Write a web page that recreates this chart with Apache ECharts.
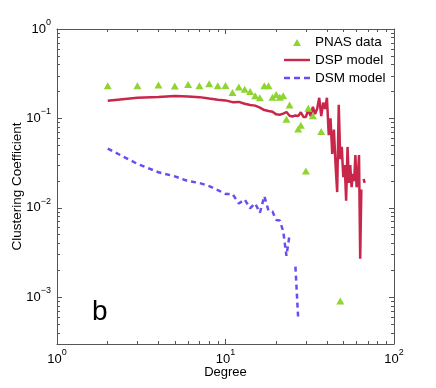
<!DOCTYPE html>
<html>
<head>
<meta charset="utf-8">
<script src="https://cdn.jsdelivr.net/npm/echarts@6/dist/echarts.min.js"></script>
<style>
  html, body { margin: 0; padding: 0; background: #fff; }
  #chart { width: 436px; height: 388px; }
</style>
</head>
<body>
<div id="chart"></div>
<script>
// PNAS data (triangles)
var pnasDegree = [2, 3, 4, 5, 6, 7, 8, 9, 10, 11, 12, 13, 14, 15, 16, 17, 18, 19, 20, 21, 22, 23, 24, 27, 28, 30, 31, 33, 37, 48];
var pnasClustering = [0.232, 0.232, 0.236, 0.230, 0.240, 0.232, 0.244, 0.232, 0.234, 0.195, 0.224, 0.212, 0.200, 0.179, 0.170,
    0.232, 0.232, 0.173, 0.185, 0.173, 0.179, 0.098, 0.141, 0.076, 0.084, 0.0259, 0.130, 0.107, 0.0716, 0.00091];

// DSP model (solid red)
var dspDegree = [2, 3, 4, 5, 6, 7, 8, 9, 10, 11, 12, 13, 14, 15, 16, 17, 18, 19, 20, 21, 22, 23, 24, 25, 26, 27, 28, 29, 30,
    31, 32, 33, 34, 35, 36, 37, 38, 39, 40, 41, 42, 43, 44, 45, 46, 47, 48, 49, 50, 51, 52, 53, 54, 55, 56, 57, 58, 59, 60,
    61, 62, 63, 64, 65, 66, 67];
var dspClustering = [0.158, 0.170, 0.174, 0.178, 0.176, 0.173, 0.167, 0.162, 0.159, 0.152, 0.153, 0.146, 0.141, 0.139, 0.132,
    0.124, 0.121, 0.119, 0.111, 0.110, 0.113, 0.118, 0.107, 0.105, 0.108, 0.106, 0.117, 0.104, 0.104,
    0.125, 0.106, 0.135, 0.112, 0.128, 0.170, 0.106, 0.150, 0.128, 0.170, 0.065, 0.100, 0.040, 0.075, 0.030, 0.015,
    0.142, 0.035, 0.048, 0.022, 0.030, 0.012, 0.048, 0.019, 0.030, 0.017, 0.024, 0.020, 0.039, 0.017,
    0.022, 0.039, 0.0027, 0.016, null, 0.021, 0.019];

// DSM model (dashed blue)
var dsmDegree = [2, 3, 4, 5, 6, 7, 8, 9, 10, 11, 12, 13, 14, 15, 16, 17, 18, 19, 20, 21, 22, 23, 24, 25, 26, 27];
var dsmClustering = [0.046, 0.031, 0.025, 0.0225, 0.0199, 0.019, 0.0175, 0.0158, 0.0143, 0.0143, 0.0112, 0.0124, 0.0099,
    0.0112, 0.0088, 0.0135, 0.0093, 0.0091, 0.0073, 0.0072, 0.0055, 0.0029, 0.0050, null, 0.0022, 0.00058];

var xRange = [1, 100];
var yRange = [0.0003, 1];
var minorFactors = [2, 3, 4, 5, 6, 7, 8, 9];

var FONT = 'Liberation Sans, Arial, Helvetica, sans-serif';
var FRAME = '#555555';
var RED = '#c8264a';
var BLUE = '#6a4cf2';
var GREEN = '#8fd431';

// legend icons, drawn in a 26x8 box (zero-length strokes pin the box)
var PIN = 'M0,0L0,0M26,8L26,8';
var ICON_TRI = 'path://' + PIN + 'M9,8L13,1L17,8Z';
var ICON_LINE = 'path://' + PIN + 'M0,2.8L26,2.8L26,5.2L0,5.2Z';
var ICON_DASH = 'path://' + PIN + 'M0,2.8L6,2.8L6,5.2L0,5.2ZM10,2.8L16,2.8L16,5.2L10,5.2ZM20,2.8L26,2.8L26,5.2L20,5.2Z';

function pairs(xs, ys) {
    return xs.map(function (x, i) { return [x, ys[i]]; });
}

function powLabel(v) {
    var l = Math.log10(v);
    var e = Math.round(l);
    if (Math.abs(l - e) > 1e-6) return '';
    return '{b|10}{s|' + (e < 0 ? '\u2212' + (-e) : e) + '}';
}

// minor tick positions (in log10 space) between lo and hi
function minorTicks(lo, hi) {
    var out = [];
    for (var p = Math.floor(Math.log10(lo)); p < Math.ceil(Math.log10(hi)); p++) {
        minorFactors.forEach(function (f) {
            var v = f * Math.pow(10, p);
            if (v > lo && v < hi) out.push(Math.log10(v));
        });
    }
    return out;
}

var labelRich = {
    b: { fontSize: 13, lineHeight: 22, fontFamily: FONT, color: '#000' },
    s: { fontSize: 9, lineHeight: 10, fontFamily: FONT, color: '#000', verticalAlign: 'top' }
};

function majorAxis(pos, range, withLabel, extra) {
    var ax = {
        type: 'log',
        position: pos,
        min: range[0],
        max: range[1],
        logBase: 10,
        axisLine: { show: true, onZero: false, lineStyle: { color: FRAME, width: 1 } },
        axisTick: { show: true, inside: true, length: 5, lineStyle: { color: FRAME } },
        axisLabel: withLabel ? { show: true, formatter: powLabel, rich: labelRich, margin: 4 } : { show: false },
        splitLine: { show: false }
    };
    return Object.assign(ax, extra || {});
}

function minorAxis(pos, range) {
    return {
        type: 'value',
        position: pos,
        min: Math.log10(range[0]),
        max: Math.log10(range[1]),
        axisLine: { show: false, onZero: false },
        axisTick: { show: true, inside: true, length: 3, lineStyle: { color: FRAME }, customValues: minorTicks(range[0], range[1]) },
        axisLabel: { show: false },
        splitLine: { show: false }
    };
}

var chart = echarts.init(document.getElementById('chart'));

chart.setOption({
    animation: false,
    backgroundColor: '#fff',
    grid: { left: 57, top: 29, width: 337, height: 315, outerBoundsMode: 'none', containLabel: false },
    legend: {
        orient: 'vertical',
        left: 284,
        top: 35,
        padding: 0,
        itemGap: 4,
        itemWidth: 26,
        itemHeight: 8,
        textStyle: { fontSize: 13.5, fontFamily: FONT, color: '#000' },
        data: [
            { name: 'PNAS data', icon: ICON_TRI, itemStyle: { color: GREEN } },
            { name: 'DSP model', icon: ICON_LINE, itemStyle: { color: RED } },
            { name: 'DSM model', icon: ICON_DASH, itemStyle: { color: BLUE } }
        ]
    },
    xAxis: [
        majorAxis('bottom', xRange, true, {
            name: 'Degree', nameLocation: 'middle', nameGap: 22, nameMoveOverlap: false,
            nameTextStyle: { fontSize: 13, fontFamily: FONT, color: '#000' }
        }),
        majorAxis('top', xRange, false),
        minorAxis('bottom', xRange),
        minorAxis('top', xRange)
    ],
    yAxis: [
        majorAxis('left', yRange, true, {
            name: 'Clustering Coefficient', nameLocation: 'middle', nameGap: 33, nameRotate: 90, nameMoveOverlap: false,
            nameTextStyle: { fontSize: 13.5, fontFamily: FONT, color: '#000' },
            axisLabel: { show: true, formatter: powLabel, rich: labelRich, margin: 6 }
        }),
        majorAxis('right', yRange, false),
        minorAxis('left', yRange),
        minorAxis('right', yRange)
    ],
    graphic: [{
        type: 'text',
        x: 92,
        y: 312,
        style: { text: 'b', fontSize: 28, fontFamily: FONT, fill: '#000', verticalAlign: 'middle' }
    }],
    series: [
        {
            name: 'DSP model',
            type: 'line',
            xAxisIndex: 0,
            yAxisIndex: 0,
            data: pairs(dspDegree, dspClustering),
            symbol: 'none',
            connectNulls: false,
            lineStyle: { color: RED, width: 2.5 },
            itemStyle: { color: RED },
            z: 3
        },
        {
            name: 'DSM model',
            type: 'line',
            xAxisIndex: 0,
            yAxisIndex: 0,
            data: pairs(dsmDegree, dsmClustering),
            symbol: 'none',
            connectNulls: false,
            lineStyle: { color: BLUE, width: 2.5, type: [5, 4] },
            itemStyle: { color: BLUE },
            z: 3
        },
        {
            name: 'PNAS data',
            type: 'scatter',
            xAxisIndex: 0,
            yAxisIndex: 0,
            data: pairs(pnasDegree, pnasClustering),
            symbol: 'triangle',
            symbolSize: [8, 7],
            itemStyle: { color: GREEN, opacity: 1 },
            z: 4
        }
    ]
});
</script>
</body>
</html>
